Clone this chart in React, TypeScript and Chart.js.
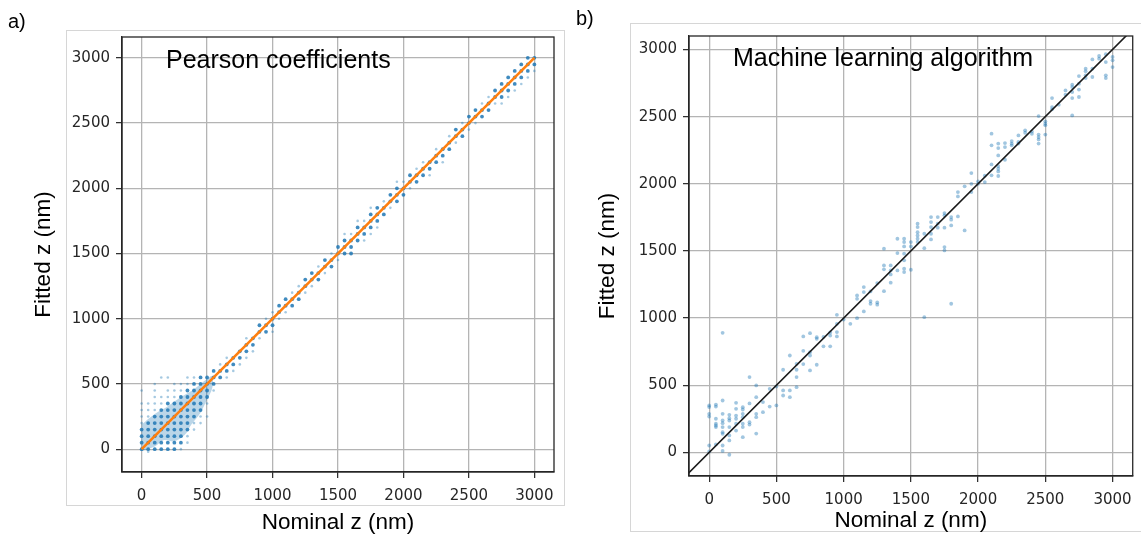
import React, { useEffect, useRef } from "react";
import { Chart, registerables } from "chart.js";

Chart.register(...registerables);

// ---------- shared text / ticks ----------
const tickValues = [0, 500, 1000, 1500, 2000, 2500, 3000];
const xTitle = "Nominal z (nm)";
const yTitle = "Fitted z (nm)";
const panelATitle = "Pearson coefficients";
const panelBTitle = "Machine learning algorithm";
const panelALetter = "a)";
const panelBLetter = "b)";

// ---------- panel a: Pearson coefficients ----------
// dense (dark) points
const aDark: [number, number][] = [
  [0, 0], [0, 50], [0, 100], [0, 150],
  [50, 0], [50, 50], [50, 100], [50, 150], [50, 200],
  [100, 0], [100, 50], [100, 100], [100, 150], [100, 200], [100, 250],
  [150, 0], [150, 50], [150, 100], [150, 150], [150, 200], [150, 250], [150, 300],
  [200, 0], [200, 50], [200, 100], [200, 150], [200, 200], [200, 250], [200, 300], [200, 350],
  [250, 0], [250, 50], [250, 100], [250, 150], [250, 200], [250, 250], [250, 300], [250, 350],
  [300, 50], [300, 100], [300, 150], [300, 200], [300, 250], [300, 300], [300, 350], [300, 400],
  [350, 150], [350, 200], [350, 250], [350, 300], [350, 350], [350, 400], [350, 450],
  [400, 250], [400, 300], [400, 350], [400, 400], [400, 450], [400, 500],
  [450, 300], [450, 350], [450, 400], [450, 450], [450, 500], [450, 550],
  [500, 400], [500, 450], [500, 500], [500, 550],
  [550, 500], [550, 550], [550, 600],
  [600, 600], [600, 550], [650, 650], [650, 600], [700, 700], [700, 650],
  [750, 750], [750, 700], [800, 800], [800, 750], [850, 850], [850, 800],
  [900, 900], [900, 950], [950, 950], [950, 900], [1000, 1000], [1000, 950],
  [1050, 1050], [1050, 1100], [1100, 1100], [1100, 1150], [1150, 1150], [1150, 1100],
  [1200, 1200], [1200, 1150], [1250, 1250], [1250, 1300], [1300, 1300], [1300, 1350],
  [1350, 1350], [1350, 1300], [1400, 1400], [1400, 1450], [1450, 1450], [1450, 1400],
  [1500, 1500], [1500, 1550], [1550, 1550], [1550, 1600], [1550, 1500],
  [1600, 1600], [1600, 1550], [1600, 1500], [1650, 1650], [1650, 1700], [1650, 1600],
  [1700, 1700], [1700, 1650], [1750, 1750], [1750, 1800], [1750, 1700],
  [1800, 1800], [1800, 1750], [1800, 1850], [1850, 1850], [1850, 1800],
  [1900, 1900], [1900, 1950], [1950, 1950], [1950, 1900], [1950, 2000],
  [2000, 2000], [2000, 1950], [2050, 2050], [2050, 2100], [2100, 2100], [2100, 2050],
  [2150, 2150], [2150, 2100], [2200, 2200], [2200, 2150], [2250, 2250], [2250, 2200],
  [2300, 2300], [2300, 2250], [2350, 2350], [2350, 2300], [2400, 2400], [2400, 2450],
  [2450, 2450], [2450, 2400], [2500, 2500], [2500, 2550], [2550, 2550], [2550, 2600],
  [2600, 2600], [2600, 2550], [2650, 2650], [2650, 2600], [2700, 2700], [2700, 2750],
  [2750, 2750], [2750, 2800], [2750, 2700], [2800, 2800], [2800, 2850], [2800, 2750],
  [2850, 2850], [2850, 2800], [2850, 2900], [2900, 2900], [2900, 2950], [2900, 2850],
  [2950, 2950], [2950, 3000], [2950, 2900], [3000, 3000], [3000, 2950],
];

// sparse (light) points
const aLight: [number, number][] = [
  [0, 200], [0, 250], [0, 300], [0, 350], [0, 450],
  [50, 250], [50, 300], [50, 350], [50, -20],
  [100, 300], [100, 350], [100, 400], [100, 450], [100, 500],
  [150, 350], [150, 400], [150, 550],
  [200, 400], [200, 450], [200, 550],
  [250, 400], [250, 450], [250, 500],
  [300, 0], [300, 450], [300, 500],
  [350, 50], [350, 100], [350, 500], [350, 550],
  [400, 150], [400, 200], [400, 550],
  [450, 200], [450, 250],
  [500, 250], [500, 350],
  [550, 450],
  [600, 650], [650, 700], [650, 550], [700, 600], [750, 650], [800, 850], [800, 700],
  [850, 750], [900, 850], [950, 1000], [1000, 1050], [1000, 900], [1050, 1000],
  [1100, 1050], [1150, 1200], [1200, 1250], [1250, 1200], [1300, 1250], [1350, 1400],
  [1400, 1350], [1450, 1500], [1500, 1450], [1550, 1650], [1600, 1650], [1650, 1750],
  [1700, 1750], [1700, 1600], [1750, 1650], [1750, 1850], [1800, 1700], [1850, 1900],
  [1900, 1850], [1950, 2050], [2000, 2050], [2050, 2000], [2100, 2150], [2150, 2200],
  [2200, 2100], [2250, 2300], [2300, 2200], [2350, 2400], [2400, 2350], [2450, 2500],
  [2500, 2450], [2550, 2500], [2600, 2650], [2650, 2700], [2700, 2650], [2750, 2650],
  [2800, 2700], [2850, 2750], [2900, 2800], [2950, 2850], [3000, 2900],
];

// overlapping density band in the low-z region (outline, upper then lower edge)
const aBandX = [0, 100, 200, 300, 400, 500, 540, 540, 500, 450, 380, 330, 250, 170, 100, 0];
const aBandY = [190, 270, 330, 400, 460, 540, 560, 470, 380, 280, 190, 110, 60, 70, 20, -15];

// fitted line
const aFitX = [0, 3000];
const aFitY = [0, 3000];

// ---------- panel b: Machine learning algorithm ----------
const bPoints: [number, number][] = [
  [0, 350], [0, 338], [0, 288], [0, 268], [0, 52], [0, 8],
  [50, 357], [50, 342], [50, 251], [50, 214], [50, 201], [50, 189], [50, 60],
  [100, 891], [100, 387], [100, 288], [100, 238], [100, 218], [100, 189], [100, 151], [100, 139], [100, 52], [100, 12],
  [150, 280], [150, 255], [150, 238], [150, 189], [150, 127], [150, 90], [150, -17],
  [200, 370], [200, 325], [200, 275], [200, 251], [200, 214], [200, 163],
  [250, 337], [250, 320], [250, 288], [250, 263], [250, 214], [250, 189], [250, 114],
  [300, 561], [300, 365], [300, 226], [300, 208],
  [350, 499], [350, 412], [350, 288], [350, 263], [350, 141],
  [400, 375], [400, 300],
  [450, 474], [450, 342],
  [500, 491], [500, 350],
  [550, 616], [550, 462], [550, 424],
  [600, 722], [600, 462], [600, 412],
  [650, 660], [650, 616], [650, 561], [650, 486],
  [700, 864], [700, 757], [700, 658],
  [750, 888], [750, 747], [750, 722], [750, 611],
  [800, 858], [800, 846], [800, 653],
  [850, 860], [850, 790],
  [900, 893], [900, 870], [900, 790],
  [950, 1025], [950, 958], [950, 896], [950, 864],
  [1000, 990],
  [1050, 958],
  [1100, 1169], [1100, 1144], [1100, 1000],
  [1150, 1231], [1150, 1194], [1150, 1050],
  [1200, 1199], [1200, 1127], [1200, 1107],
  [1250, 1261], [1250, 1117], [1250, 1100],
  [1300, 1517], [1300, 1392], [1300, 1363], [1300, 1201],
  [1350, 1392], [1350, 1355], [1350, 1325], [1350, 1264],
  [1400, 1591], [1400, 1484], [1400, 1355],
  [1450, 1591], [1450, 1566], [1450, 1534], [1450, 1480], [1450, 1430], [1450, 1368], [1450, 1343],
  [1500, 1566], [1500, 1534], [1500, 1360],
  [1550, 1703], [1550, 1678], [1550, 1640], [1550, 1616], [1550, 1591], [1550, 1566],
  [1600, 1628], [1600, 1521], [1600, 1007],
  [1650, 1752], [1650, 1715], [1650, 1678], [1650, 1628], [1650, 1586],
  [1700, 1752], [1700, 1703], [1700, 1673],
  [1750, 1782], [1750, 1765], [1750, 1673], [1750, 1529], [1750, 1504],
  [1800, 1752], [1800, 1733], [1800, 1690], [1800, 1107],
  [1850, 1938], [1850, 1906], [1850, 1757],
  [1900, 1981], [1900, 1653],
  [1950, 2080], [1950, 2000], [1950, 1938],
  [2000, 2018], [2000, 2000],
  [2050, 2013], [2050, 2060],
  [2100, 2373], [2100, 2286], [2100, 2144], [2100, 2063],
  [2150, 2299], [2150, 2266], [2150, 2211], [2150, 2132], [2150, 2112], [2150, 2092], [2150, 2058],
  [2200, 2303], [2200, 2273], [2200, 2179],
  [2250, 2318], [2250, 2299], [2250, 2286],
  [2300, 2360], [2300, 2311], [2300, 2299],
  [2350, 2398], [2350, 2380],
  [2400, 2390], [2400, 2372],
  [2450, 2504], [2450, 2366], [2450, 2348], [2450, 2330], [2450, 2299],
  [2500, 2465], [2500, 2447], [2500, 2435], [2500, 2366],
  [2550, 2638], [2550, 2571], [2550, 2554],
  [2600, 2589],
  [2650, 2695], [2650, 2663],
  [2700, 2738], [2700, 2720], [2700, 2683], [2700, 2638], [2700, 2509],
  [2750, 2802], [2750, 2745], [2750, 2701], [2750, 2646],
  [2800, 2857], [2800, 2837], [2800, 2807], [2800, 2787],
  [2850, 2926], [2850, 2857], [2850, 2795],
  [2900, 2951], [2900, 2931],
  [2950, 2964], [2950, 2906], [2950, 2807], [2950, 2787],
  [3000, 2944], [3000, 2919], [3000, 2869],
];

// identity reference line
const bRefX = [-300, 3300];
const bRefY = [-300, 3300];

// ---------- helpers ----------
const toXY = (pairs: [number, number][]) => pairs.map(([x, y]) => ({ x, y }));
const zipXY = (xs: number[], ys: number[]) => xs.map((x, i) => ({ x, y: ys[i] }));

const INK = "#262626";

function makeAxis(pos: "left" | "bottom", min: number, max: number, size: number, titlePad: any) {
  return {
    type: "linear",
    position: pos,
    min,
    max,
    afterBuildTicks: (s: any) => {
      s.ticks = tickValues.map((v) => ({ value: v }));
    },
    afterFit: (s: any) => {
      if (pos === "left") s.width = size;
      else s.height = size;
    },
    grid: {
      color: "#b4b4b4",
      lineWidth: 1.3,
      drawTicks: true,
      tickLength: 6,
      tickColor: INK,
      tickWidth: 1.2,
    },
    border: { display: true, color: INK, width: 1.3 },
    ticks: {
      color: INK,
      font: { family: "'DejaVu Sans'", size: 15 },
      padding: pos === "left" ? 6 : 9,
      autoSkip: false,
      maxRotation: 0,
      callback: (v: any) => String(v),
    },
    title: {
      display: true,
      text: pos === "left" ? yTitle : xTitle,
      color: "#000",
      font: { family: "'Liberation Sans', Arial", size: 22.5 },
      padding: titlePad,
    },
  };
}

function makePlugins(label: string, dx: number, baseline: number) {
  return [
    {
      id: "frameAndLabel",
      afterDraw(chart: any) {
        const { ctx, chartArea: a } = chart;
        ctx.save();
        ctx.strokeStyle = INK;
        ctx.lineWidth = 1.3;
        ctx.strokeRect(a.left, a.top, a.right - a.left, a.bottom - a.top);
        ctx.fillStyle = "#000";
        ctx.font = "25px 'Liberation Sans', Arial";
        ctx.textBaseline = "alphabetic";
        ctx.textAlign = "left";
        ctx.fillText(label, a.left + dx, baseline);
        ctx.restore();
      },
    },
  ];
}

function PanelA() {
  const ref = useRef<HTMLCanvasElement>(null);
  useEffect(() => {
    if (!ref.current) return;
    const chart = new Chart(ref.current, {
      type: "scatter",
      data: {
        datasets: [
          {
            data: zipXY(aFitX, aFitY),
            showLine: true,
            borderColor: "#ff7f0e",
            borderWidth: 2.6,
            pointRadius: 0,
            order: 0,
            clip: 0,
          } as any,
          {
            data: toXY(aDark),
            backgroundColor: "rgba(31,119,180,0.85)",
            pointRadius: 1.9,
            pointBorderWidth: 0,
            order: 1,
          },
          {
            data: toXY(aLight),
            backgroundColor: "rgba(31,119,180,0.4)",
            pointRadius: 1.3,
            pointBorderWidth: 0,
            order: 2,
          },
          {
            data: zipXY(aBandX, aBandY),
            showLine: true,
            borderWidth: 0,
            borderColor: "rgba(0,0,0,0)",
            backgroundColor: "rgba(31,119,180,0.3)",
            fill: "shape",
            tension: 0.3,
            pointRadius: 0,
            order: 3,
          } as any,
        ],
      },
      options: {
        responsive: false,
        animation: false,
        events: [],
        layout: { padding: { left: 20, top: 37, right: 16, bottom: 0 } },
        plugins: { legend: { display: false }, tooltip: { enabled: false } },
        scales: {
          x: makeAxis("bottom", -150, 3150, 65, { top: 4, bottom: 1 }),
          y: makeAxis("left", -175, 3160, 102, { top: 10, bottom: 0 }),
        } as any,
      },
      plugins: makePlugins(panelATitle, 44, 67.5) as any,
    });
    return () => chart.destroy();
  }, []);
  return <canvas ref={ref} width={570} height={537} style={{ position: "absolute", left: 0, top: 0 }} />;
}

function PanelB() {
  const ref = useRef<HTMLCanvasElement>(null);
  useEffect(() => {
    if (!ref.current) return;
    const chart = new Chart(ref.current, {
      type: "scatter",
      data: {
        datasets: [
          {
            data: zipXY(bRefX, bRefY),
            showLine: true,
            borderColor: "#1a1a1a",
            borderWidth: 1.6,
            pointRadius: 0,
            order: 0,
            clip: 0,
          } as any,
          {
            data: toXY(bPoints),
            backgroundColor: "rgba(31,119,180,0.42)",
            pointRadius: 1.9,
            pointBorderWidth: 0,
            order: 1,
          },
        ],
      },
      options: {
        responsive: false,
        animation: false,
        events: [],
        layout: { padding: { left: 14, top: 36, right: 8, bottom: 0 } },
        plugins: { legend: { display: false }, tooltip: { enabled: false } },
        scales: {
          x: makeAxis("bottom", -150, 3150, 61, { top: 4, bottom: 2.5 }),
          y: makeAxis("left", -175, 3100, 105, { top: 10.5, bottom: 0 }),
        } as any,
      },
      plugins: makePlugins(panelBTitle, 44, 66) as any,
    });
    return () => chart.destroy();
  }, []);
  return <canvas ref={ref} width={571} height={537} style={{ position: "absolute", left: 570, top: 0 }} />;
}

const letterStyle: React.CSSProperties = {
  position: "absolute",
  fontFamily: "'Liberation Sans', Arial, sans-serif",
  fontSize: 20,
  lineHeight: "20px",
  color: "#000",
};

export default function App() {
  return (
    <div
      style={{
        position: "absolute",
        left: 0,
        top: 0,
        width: 1141,
        height: 537,
        background: "#fff",
        overflow: "hidden",
      }}
    >
      <div
        style={{
          position: "absolute",
          left: 66,
          top: 30,
          width: 497,
          height: 474,
          border: "1px solid #d6d6d6",
        }}
      />
      <div
        style={{
          position: "absolute",
          left: 630,
          top: 23,
          width: 560,
          height: 507,
          border: "1px solid #d6d6d6",
        }}
      />
      <PanelA />
      <PanelB />
      <div style={{ ...letterStyle, left: 8, top: 11 }}>{panelALetter}</div>
      <div style={{ ...letterStyle, left: 576, top: 8 }}>{panelBLetter}</div>
    </div>
  );
}
